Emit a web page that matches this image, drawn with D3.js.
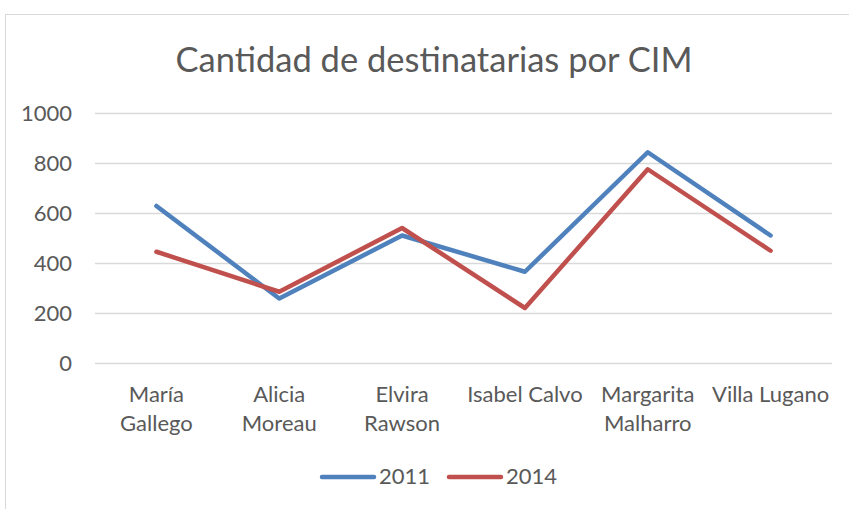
<!DOCTYPE html>
<html>
<head>
<meta charset="utf-8">
<script src="https://cdn.jsdelivr.net/npm/d3@7"></script>
<style>
  html, body { margin: 0; padding: 0; background: #fff; }
  svg { display: block; }
  text { font-family: Lato, "Open Sans", sans-serif; fill: #595959; }
</style>
</head>
<body>
<svg id="chart" width="849" height="509"></svg>
<script>
// Centros Integrales de la Mujer (CIM)
const categories = [
  ["María", "Gallego"],
  ["Alicia", "Moreau"],
  ["Elvira", "Rawson"],
  ["Isabel Calvo"],
  ["Margarita", "Malharro"],
  ["Villa Lugano"]
];
const values2011 = [628, 258, 510, 365, 843, 510];
const values2014 = [445, 285, 540, 220, 775, 449];
const seriesNames = ["2011", "2014"];
const seriesColors = ["#4F81BD", "#C0504D"];
const yTicks = [0, 200, 400, 600, 800, 1000];

const series = [values2011, values2014];

const W = 849, H = 509;
const margin = { left: 95, right: 17, top: 113, bottom: 146 };
const svg = d3.select("#chart");

// chart area frame
svg.append("rect")
  .attr("x", 5.5).attr("y", 14.5)
  .attr("width", 860).attr("height", 520)
  .attr("fill", "none").attr("stroke", "#D9D9D9").attr("stroke-width", 1);

const x = d3.scaleBand()
  .domain(d3.range(categories.length))
  .range([margin.left, W - margin.right]);

const y = d3.scaleLinear()
  .domain([0, 1000])
  .range([H - margin.bottom, margin.top]);

// horizontal gridlines
svg.append("g")
  .selectAll("line")
  .data(yTicks)
  .join("line")
  .attr("x1", margin.left).attr("x2", W - margin.right)
  .attr("y1", d => Math.round(y(d)) + 0.5).attr("y2", d => Math.round(y(d)) + 0.5)
  .attr("stroke", "#D9D9D9").attr("stroke-width", 1.3);

// y axis labels
const yAxis = d3.axisLeft(y).tickValues(yTicks).tickFormat(d3.format("d")).tickSize(0).tickPadding(0);
const gy = svg.append("g")
  .attr("transform", `translate(${margin.left - 23},0)`)
  .call(yAxis);
gy.select(".domain").remove();
gy.selectAll("text")
  .style("font-family", "Lato, 'Open Sans', sans-serif")
  .style("font-size", "22px")
  .attr("fill", "#595959")
  .attr("dy", "0.36em");

// category labels
const xLabels = svg.append("g");
categories.forEach((lines, i) => {
  const t = xLabels.append("text")
    .attr("x", x(i) + x.bandwidth() / 2)
    .attr("y", 402)
    .attr("text-anchor", "middle")
    .style("font-size", "22px");
  lines.forEach((ln, k) => {
    t.append("tspan")
      .attr("x", x(i) + x.bandwidth() / 2)
      .attr("dy", k === 0 ? 0 : 29)
      .text(ln);
  });
});

// series lines
const line = d3.line()
  .x((d, i) => x(i) + x.bandwidth() / 2)
  .y(d => y(d));

svg.append("g")
  .selectAll("path")
  .data(series)
  .join("path")
  .attr("d", d => line(d))
  .attr("fill", "none")
  .attr("stroke", (d, i) => seriesColors[i])
  .attr("stroke-width", 4.5)
  .attr("stroke-linejoin", "round")
  .attr("stroke-linecap", "round");

// title
svg.append("text")
  .attr("x", 434).attr("y", 72)
  .attr("text-anchor", "middle")
  .style("font-size", "34.5px")
  .text("Cantidad de destinatarias por CIM");

// legend
const legend = svg.append("g");
const legendX = [322, 449];
seriesNames.forEach((name, i) => {
  legend.append("line")
    .attr("x1", legendX[i]).attr("x2", legendX[i] + 52)
    .attr("y1", 477).attr("y2", 477)
    .attr("stroke", seriesColors[i]).attr("stroke-width", 4.5)
    .attr("stroke-linecap", "round");
  legend.append("text")
    .attr("x", legendX[i] + 57).attr("y", 484)
    .style("font-size", "22px")
    .text(name);
});
</script>
</body>
</html>
